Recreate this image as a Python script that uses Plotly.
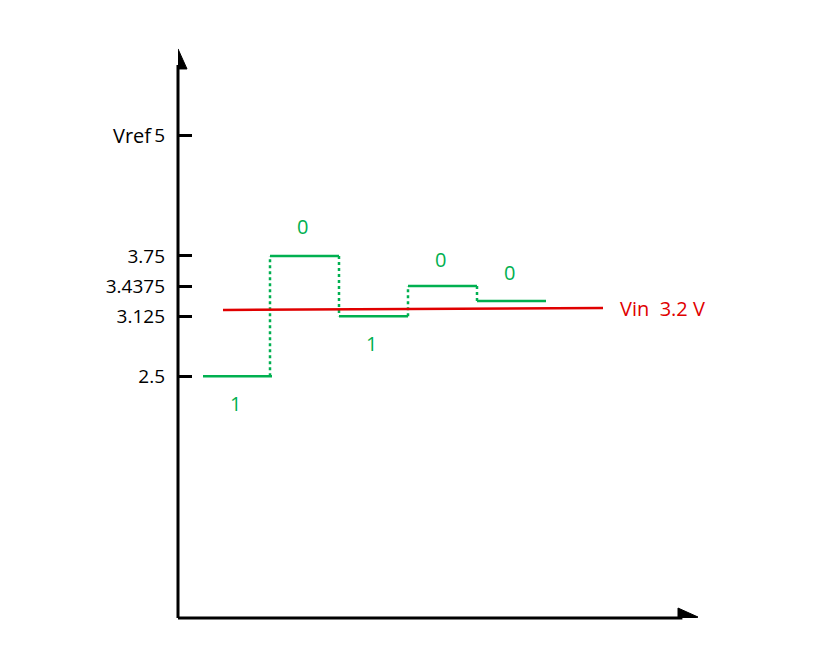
import plotly.graph_objects as go

levels = [2.5, 3.75, 3.125, 3.4375, 3.28125]
bits = ["1", "0", "1", "0", "0"]
step_starts = [25, 92, 161, 230, 299]
step_width = 69
vin = 3.2
tick_vals = [2.5, 3.125, 3.4375, 3.75, 5]
tick_text = ["2.5", "3.125", "3.4375", "3.75", "5"]

GREEN = "#00b050"
RED = "#e00000"
fig = go.Figure()

for i, (x0, lv) in enumerate(zip(step_starts, levels)):
    fig.add_trace(go.Scatter(x=[x0, x0 + step_width], y=[lv, lv], mode="lines",
                             line=dict(color=GREEN, width=2.5), showlegend=False))
    if i > 0:
        fig.add_trace(go.Scatter(x=[x0, x0], y=[levels[i - 1], lv], mode="lines",
                                 line=dict(color=GREEN, width=2.5, dash="dot"), showlegend=False))

fig.add_trace(go.Scatter(x=[45, 425], y=[vin - 0.01, vin + 0.01], mode="lines",
                         line=dict(color=RED, width=2.5), showlegend=False))

ann = []
offsets = [-0.28, 0.31, -0.28, 0.28, 0.3]
for x0, lv, b, off in zip(step_starts, levels, bits, offsets):
    ann.append(dict(x=x0 + step_width / 2 - 2, y=lv + off, text=b, showarrow=False,
                    font=dict(color=GREEN, size=20)))
ann.append(dict(x=440, y=vin, text="Vin  3.2 V", showarrow=False, xanchor="left",
                font=dict(color=RED, size=20)))
ann.append(dict(x=-0.046, xref="paper", y=5, text="Vref", showarrow=False, xanchor="right",
                font=dict(color="black", size=20)))

shapes = [
    dict(type="line", xref="paper", yref="paper", x0=0, x1=0, y0=0, y1=0.97,
         line=dict(color="black", width=3)),
    dict(type="line", xref="paper", yref="paper", x0=0, x1=0.97, y0=0, y1=0,
         line=dict(color="black", width=3)),
    dict(type="path", xref="x", yref="y", xsizemode="pixel", ysizemode="pixel",
         xanchor=0, yanchor=5.9, path="M-9,-20 L0,0 L9,-20 Z",
         fillcolor="black", line=dict(color="black", width=1)),
    dict(type="path", xref="x", yref="y", xsizemode="pixel", ysizemode="pixel",
         xanchor=520, yanchor=0, path="M0,0 L-20,9 L-20,-9 Z",
         fillcolor="black", line=dict(color="black", width=1)),
]

fig.update_layout(
    width=832, height=651, plot_bgcolor="white", paper_bgcolor="white",
    margin=dict(l=170, r=142, t=40, b=41, autoexpand=False),
    font=dict(family="Open Sans, Liberation Sans", size=19, color="black"),
    annotations=ann, shapes=shapes,
    xaxis=dict(range=[0, 520], showgrid=False, zeroline=False, showticklabels=False,
               showline=False, fixedrange=True, automargin=False),
    yaxis=dict(range=[-0.01, 5.91], showgrid=False, zeroline=False, showline=False,
               tickvals=tick_vals, ticktext=tick_text, ticks="inside", ticklen=14,
               tickwidth=2.5, tickcolor="black", ticklabelstandoff=12, automargin=False),
)
fig.write_html("out.html")
